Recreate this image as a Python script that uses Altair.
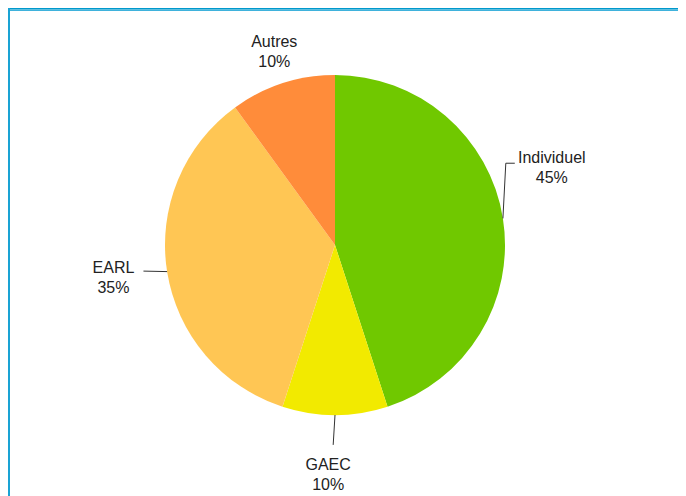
import altair as alt
import pandas as pd

# ---- data ----
categories = ["Individuel", "GAEC", "EARL", "Autres"]
shares = [45, 10, 35, 10]
pct_labels = ["45%", "10%", "35%", "10%"]
colors = ["#70c800", "#f2ea00", "#ffc654", "#ff8c3a"]

# ---- layout / style ----
W, H = 670, 488
CX, CY, R = 327, 237, 170
FONT = "Liberation Sans"
LINE_H = 20

# label block placement: (angle shift from slice mid-angle in degrees, distance from centre)
label_layout = {
    "Individuel": (-10.5, 230),
    "GAEC": (1.7, 230),
    "EARL": (0.5, 224),
    "Autres": (0.5, 202),
}
# connector elbow and end, relative to the label block centre
connector_layout = {
    "Individuel": ((-46, -5), (-37, -5)),
    "GAEC": ((5, -30), (5, -30)),
    "EARL": ((30, -7), (30, -7)),
}


def chain(mapping, default):
    expr = str(default)
    for k, v in mapping.items():
        expr = f"datum.cat == '{k}' ? {v} : ({expr})"
    return expr


df = pd.DataFrame({
    "cat": categories,
    "value": shares,
    "ord": list(range(len(categories))),
    "label": [f"{c}\n{p}" for c, p in zip(categories, pct_labels)],
})

base = alt.Chart(df).transform_window(
    cum="sum(value)", sort=[alt.SortField("ord")], frame=[None, 0]
).transform_joinaggregate(
    total="sum(value)"
).transform_calculate(
    mid="2*PI*(datum.cum - datum.value/2)/datum.total",
    shift=chain({k: v[0] for k, v in label_layout.items()}, 0),
    lr=chain({k: v[1] for k, v in label_layout.items()}, 220),
).transform_calculate(
    ang="datum.mid + datum.shift*PI/180",
).transform_calculate(
    lx=f"{CX} + datum.lr*sin(datum.ang)",
    ly=f"{CY} - datum.lr*cos(datum.ang)",
    ex=f"{CX} + {R}*sin(datum.mid)",
    ey=f"{CY} - {R}*cos(datum.mid)",
    has_conn=chain({k: 1 for k in connector_layout}, 0),
    k1dx=chain({k: v[0][0] for k, v in connector_layout.items()}, 0),
    k1dy=chain({k: v[0][1] for k, v in connector_layout.items()}, 0),
    k2dx=chain({k: v[1][0] for k, v in connector_layout.items()}, 0),
    k2dy=chain({k: v[1][1] for k, v in connector_layout.items()}, 0),
).transform_calculate(
    ty=f"datum.ly - {LINE_H / 2}",
    k1x="datum.lx + datum.k1dx",
    k1y="datum.ly + datum.k1dy",
    k2x="datum.lx + datum.k2dx",
    k2y="datum.ly + datum.k2dy",
)

pie = alt.Chart(df).mark_arc(outerRadius=R).encode(
    theta=alt.Theta("value:Q", stack=True),
    order=alt.Order("ord:Q"),
    color=alt.Color("cat:N", scale=alt.Scale(domain=categories, range=colors), legend=None),
    x=alt.value(CX),
    y=alt.value(CY),
)

labels = base.mark_text(
    font=FONT, fontSize=16, lineHeight=LINE_H, lineBreak="\n",
    align="center", baseline="middle", color="#222222",
).encode(
    x=alt.X("lx:Q", scale=None),
    y=alt.Y("ty:Q", scale=None),
    text="label:N",
)

seg1 = base.transform_filter("datum.has_conn == 1").mark_rule(color="#333333", strokeWidth=1).encode(
    x=alt.X("ex:Q", scale=None), y=alt.Y("ey:Q", scale=None),
    x2="k1x:Q", y2="k1y:Q",
)
seg2 = base.transform_filter("datum.has_conn == 1").mark_rule(color="#333333", strokeWidth=1).encode(
    x=alt.X("k1x:Q", scale=None), y=alt.Y("k1y:Q", scale=None),
    x2="k2x:Q", y2="k2y:Q",
)

frame_df = pd.DataFrame({"k": [0]})
band = alt.Chart(frame_df).mark_rect(color="#0099cc").encode(
    x=alt.value(0), x2=alt.value(W), y=alt.value(0), y2=alt.value(1.5)
)
band_light = alt.Chart(frame_df).mark_rect(color="#3fb2dc").encode(
    x=alt.value(0), x2=alt.value(W), y=alt.value(1.5), y2=alt.value(3)
)
left_line = alt.Chart(frame_df).mark_rect(color="#1aa3d4").encode(
    x=alt.value(0), x2=alt.value(2), y=alt.value(0), y2=alt.value(H)
)

chart = alt.layer(pie, seg1, seg2, labels, band, band_light, left_line).properties(
    width=W, height=H,
    autosize=alt.AutoSizeParams(type="none"),
    padding=0,
    background="white",
).configure_view(strokeWidth=0)

chart.save("out.html", embed_options={"renderer": "svg", "actions": False})
